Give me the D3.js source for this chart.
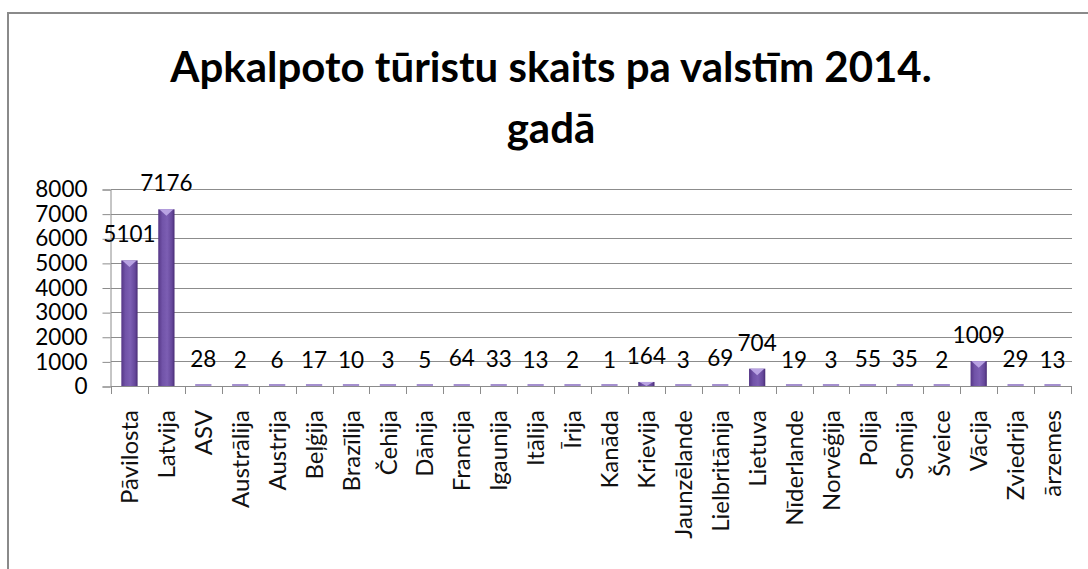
<!DOCTYPE html>
<html>
<head>
<meta charset="utf-8">
<script src="https://cdn.jsdelivr.net/npm/d3@7"></script>
<style>
  body { margin: 0; background: #fff; }
  svg { display: block; font-family: Lato, "Noto Sans", sans-serif; }
</style>
</head>
<body>
<div id="chart"></div>
<script>
// values
var countries = ["Pāvilosta", "Latvija", "ASV", "Austrālija", "Austrija", "Beļģija", "Brazīlija",
  "Čehija", "Dānija", "Francija", "Igaunija", "Itālija", "Īrija", "Kanāda", "Krievija",
  "Jaunzēlande", "Lielbritānija", "Lietuva", "Nīderlande", "Norvēģija", "Polija", "Somija",
  "Šveice", "Vācija", "Zviedrija", "ārzemes"];
var tourists = [5101, 7176, 28, 2, 6, 17, 10, 3, 5, 64, 33, 13, 2, 1, 164, 3, 69, 704, 19, 3,
  55, 35, 2, 1009, 29, 13];
var yTicks = [0, 1000, 2000, 3000, 4000, 5000, 6000, 7000, 8000];
var titleLines = ["Apkalpoto tūristu skaits pa valstīm 2014.", "gadā"];

var width = 1088, height = 569;
var plot = { left: 111, right: 1071, top: 189, bottom: 386 };

var svg = d3.select("#chart").append("svg")
  .attr("width", width)
  .attr("height", height);

svg.append("rect")
  .attr("width", width).attr("height", height)
  .attr("fill", "#fff");

// chart frame (cut off at right and bottom like the screenshot)
svg.append("rect")
  .attr("x", 8).attr("y", 13)
  .attr("width", 1300).attr("height", 800)
  .attr("fill", "none")
  .attr("stroke", "#8a8a8a")
  .attr("stroke-width", 2);

var defs = svg.append("defs");
var grad = defs.append("linearGradient")
  .attr("id", "barGrad")
  .attr("x1", "0%").attr("x2", "100%").attr("y1", "0%").attr("y2", "0%");
grad.append("stop").attr("offset", "0%").attr("stop-color", "#553686");
grad.append("stop").attr("offset", "25%").attr("stop-color", "#7153a8");
grad.append("stop").attr("offset", "55%").attr("stop-color", "#7c5eb3");
grad.append("stop").attr("offset", "85%").attr("stop-color", "#65479a");
grad.append("stop").attr("offset", "100%").attr("stop-color", "#482b74");

var x = d3.scaleBand()
  .domain(countries)
  .range([plot.left, plot.right])
  .paddingInner(0.56)
  .paddingOuter(0.28);

var y = d3.scaleLinear()
  .domain([0, 8000])
  .range([plot.bottom, plot.top]);

// gridlines
svg.append("g")
  .selectAll("line")
  .data(yTicks.slice(1))
  .enter().append("line")
  .attr("x1", plot.left).attr("x2", plot.right + 1)
  .attr("y1", function (d) { return Math.round(y(d)) + 0.5; })
  .attr("y2", function (d) { return Math.round(y(d)) + 0.5; })
  .attr("stroke", "#8c8c8c");

// y axis
var yAxis = svg.append("g")
  .attr("transform", "translate(" + (plot.left - 0.5) + ",0.5)")
  .call(d3.axisLeft(y).tickValues(yTicks).tickSize(8).tickPadding(15).tickFormat(d3.format("d")));
yAxis.select(".domain").attr("stroke", "#8c8c8c");
yAxis.selectAll(".tick line").attr("stroke", "#8c8c8c");
yAxis.selectAll(".tick text")
  .attr("fill", "#000")
  .style("font-size", "22.5px")
  .style("font-family", "Lato, sans-serif");

// x axis: category boundary ticks
var step = x.step();
var bounds = d3.range(countries.length + 1).map(function (i) { return plot.left + i * step; });
var xAxis = svg.append("g");
xAxis.append("line")
  .attr("x1", plot.left).attr("x2", plot.right + 1)
  .attr("y1", plot.bottom + 0.5).attr("y2", plot.bottom + 0.5)
  .attr("stroke", "#8c8c8c");
xAxis.selectAll("line.tk")
  .data(bounds)
  .enter().append("line")
  .attr("class", "tk")
  .attr("x1", function (d) { return Math.round(d) + 0.5; })
  .attr("x2", function (d) { return Math.round(d) + 0.5; })
  .attr("y1", plot.bottom)
  .attr("y2", plot.bottom + 8)
  .attr("stroke", "#8c8c8c");

// category labels, rotated
xAxis.selectAll("text")
  .data(countries)
  .enter().append("text")
  .attr("transform", function (d) {
    return "translate(" + (x(d) + x.bandwidth() / 2) + "," + (plot.bottom + 24) + ") rotate(-90)";
  })
  .attr("dy", "0.36em")
  .attr("text-anchor", "end")
  .style("font-size", "24px")
  .attr("fill", "#111")
  .text(function (d) { return d; });

// bars
var bars = svg.append("g")
  .selectAll("g")
  .data(countries)
  .enter().append("g");

bars.append("rect")
  .attr("x", function (d) { return x(d); })
  .attr("width", x.bandwidth())
  .attr("y", function (d, i) { return Math.min(y(tourists[i]), plot.bottom - 2); })
  .attr("height", function (d, i) { return Math.max(plot.bottom - y(tourists[i]), 2); })
  .attr("fill", function (d, i) { return tourists[i] > 100 ? "url(#barGrad)" : "#a48fcf"; });

// light bevel on top of the bars
bars.filter(function (d, i) { return tourists[i] > 100; })
  .append("path")
  .attr("d", function (d) {
    var i = countries.indexOf(d);
    var x0 = x(d), bw = x.bandwidth(), top = y(tourists[i]);
    var h = Math.min(bw * 0.4, plot.bottom - top);
    return "M" + (x0 + 1) + "," + top + "L" + (x0 + bw - 1) + "," + top +
      "L" + (x0 + bw / 2) + "," + (top + h) + "Z";
  })
  .attr("fill", "#b9a3e3");

// value labels
svg.append("g")
  .selectAll("text")
  .data(countries)
  .enter().append("text")
  .attr("x", function (d) { return x(d) + x.bandwidth() / 2; })
  .attr("y", function (d, i) { return y(tourists[i]) - 18; })
  .attr("text-anchor", "middle")
  .style("font-size", "22.5px")
  .attr("fill", "#000")
  .text(function (d, i) { return tourists[i]; });

// title
svg.append("g")
  .selectAll("text")
  .data(titleLines)
  .enter().append("text")
  .attr("x", 551)
  .attr("y", function (d, i) { return 82 + i * 61; })
  .attr("text-anchor", "middle")
  .style("font-size", "42px")
  .style("font-weight", "bold")
  .attr("fill", "#000")
  .text(function (d) { return d; });
</script>
</body>
</html>
